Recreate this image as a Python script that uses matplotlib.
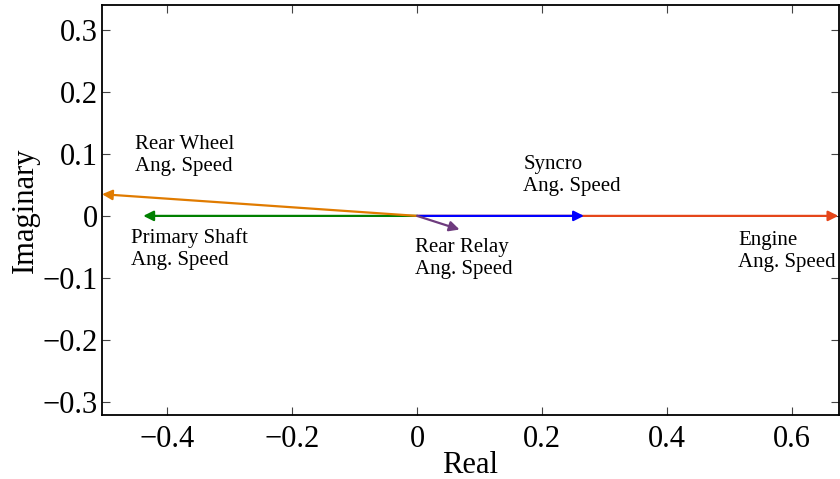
"""
plot.py — phasor diagram of the drivetrain angular speeds in the complex plane.
Saves out.png.
"""
import matplotlib
matplotlib.use("Agg")
import matplotlib.pyplot as plt
from matplotlib.ticker import FuncFormatter

# phasor tips (real, imaginary)
names = ["Engine", "Syncro", "Primary Shaft", "Rear Wheel", "Rear Relay"]
real_parts = [0.674, 0.267, -0.438, -0.504, 0.068]
imag_parts = [0.0, 0.0, 0.0, 0.035, -0.022]
colors = ["#E5461A", "#0000FF", "#008000", "#E07B00", "#6E3B7E"]

# label anchors (top-left corner of each two-line label)
label_x = [0.514, 0.170, -0.458, -0.451, -0.003]
label_y = [-0.025, 0.098, -0.020, 0.130, -0.036]

xticks = [-0.4, -0.2, 0.0, 0.2, 0.4, 0.6]
yticks = [-0.3, -0.2, -0.1, 0.0, 0.1, 0.2, 0.3]

plt.rcParams["font.family"] = ["Liberation Serif", "DejaVu Serif"]

fig = plt.figure(figsize=(8.4, 4.79), dpi=100)
ax = fig.add_axes([102 / 840, 64 / 479, 737 / 840, 410 / 479])

for x, y, c in zip(real_parts, imag_parts, colors):
    ax.annotate("", xy=(x, y), xytext=(0, 0),
                arrowprops=dict(arrowstyle="-|>", color=c, lw=1.6,
                                mutation_scale=15, shrinkA=0, shrinkB=0))

for name, tx, ty in zip(names, label_x, label_y):
    ax.text(tx, ty, f"{name}\nAng. Speed", fontsize=15, ha="left", va="top",
            linespacing=1.2)

ax.set_xlim(-0.504, 0.675)
ax.set_ylim(-0.321, 0.340)

ax.set_xticks(xticks)
ax.set_yticks(yticks)
fmt = FuncFormatter(lambda v, _: "0" if abs(v) < 1e-9 else f"{v:.1f}".replace("-", "\u2212"))
ax.xaxis.set_major_formatter(fmt)
ax.yaxis.set_major_formatter(fmt)
ax.tick_params(direction="in", length=6, width=0.8, top=True, right=True,
               labelsize=22, color="#444444")
ax.tick_params(axis="x", pad=7)
ax.tick_params(axis="y", pad=3)

for s in ax.spines.values():
    s.set_linewidth(1.3)

ax.set_xlabel("Real", fontsize=22, labelpad=-2)
ax.set_ylabel("Imaginary", fontsize=22, labelpad=2)

fig.savefig("out.png", dpi=100)
